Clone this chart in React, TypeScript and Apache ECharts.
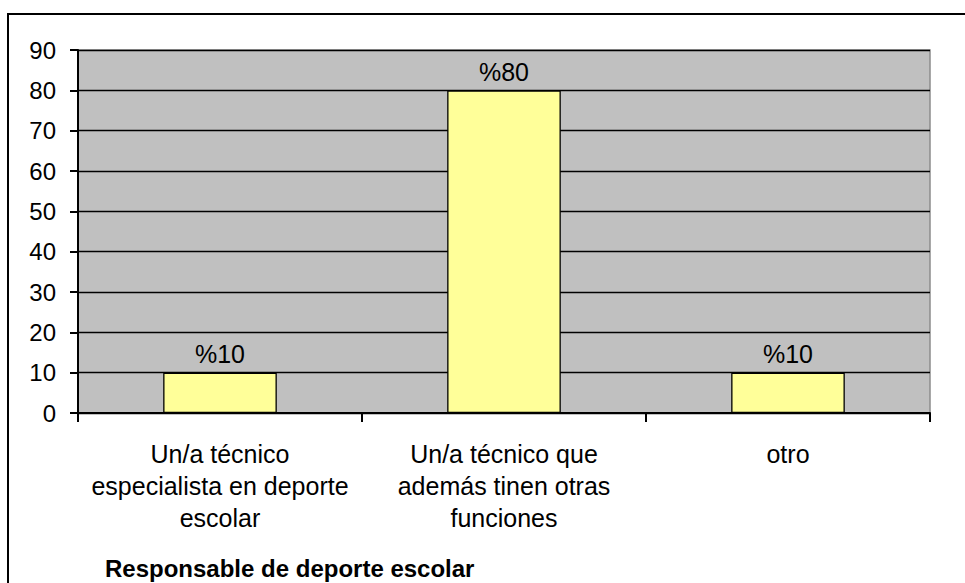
import React, { useEffect, useRef } from "react";
import * as echarts from "echarts";

const categories = [
  "Un/a técnico\nespecialista en deporte\nescolar",
  "Un/a técnico que\nademás tinen otras\nfunciones",
  "otro",
];
const values = [10, 80, 10];
const yTicks = { min: 0, max: 90, interval: 10 };
const axisTitle = "Responsable de deporte escolar";

const FONT = "'Liberation Sans', Arial, sans-serif";

export default function App() {
  const ref = useRef<HTMLDivElement>(null);
  useEffect(() => {
    document.body.style.margin = "0";
    const chart = echarts.init(ref.current!, null, { renderer: "svg" });
    chart.setOption({
      animation: false,
      backgroundColor: "#ffffff",
      textStyle: { fontFamily: FONT },
      title: {
        text: axisTitle,
        left: 105,
        top: 556,
        padding: 0,
        textStyle: { fontFamily: FONT, fontSize: 24, fontWeight: "bold", color: "#000" },
      },
      graphic: [
        {
          type: "rect",
          shape: { x: 8, y: 14, width: 970, height: 600 },
          style: { fill: "none", stroke: "#000", lineWidth: 2 },
          z: 100,
        },
      ],
      grid: {
        left: 78,
        top: 50,
        right: 35,
        bottom: 170,
        show: true,
        backgroundColor: "#C0C0C0",
        borderColor: "#8c8c8c",
        borderWidth: 1.5,
      },
      xAxis: {
        type: "category",
        data: categories,
        axisLine: { lineStyle: { color: "#000", width: 2 } },
        axisTick: { show: true, length: 9, lineStyle: { color: "#000", width: 2 } },
        axisLabel: {
          interval: 0,
          fontSize: 25,
          lineHeight: 32,
          color: "#000",
          fontFamily: FONT,
          margin: 25,
          align: "center",
        },
        splitLine: { show: false },
      },
      yAxis: {
        type: "value",
        min: yTicks.min,
        max: yTicks.max,
        interval: yTicks.interval,
        axisLine: { show: true, lineStyle: { color: "#000", width: 2 } },
        axisTick: { show: true, length: 8, lineStyle: { color: "#000", width: 2 } },
        axisLabel: { fontSize: 24, color: "#000", fontFamily: FONT, margin: 22 },
        splitLine: { show: true, lineStyle: { color: "#000", width: 1.3 } },
      },
      series: [
        {
          type: "bar",
          data: values,
          barWidth: "40%",
          itemStyle: { color: "#FFFF99", borderColor: "#000", borderWidth: 1.3 },
          label: {
            show: true,
            position: "top",
            distance: 6,
            formatter: "%{c}",
            fontSize: 25,
            color: "#000",
            fontFamily: FONT,
          },
        },
      ],
    });
    return () => chart.dispose();
  }, []);
  return (
    <div
      ref={ref}
      style={{ position: "fixed", left: 0, top: 0, width: 965, height: 583 }}
    />
  );
}
